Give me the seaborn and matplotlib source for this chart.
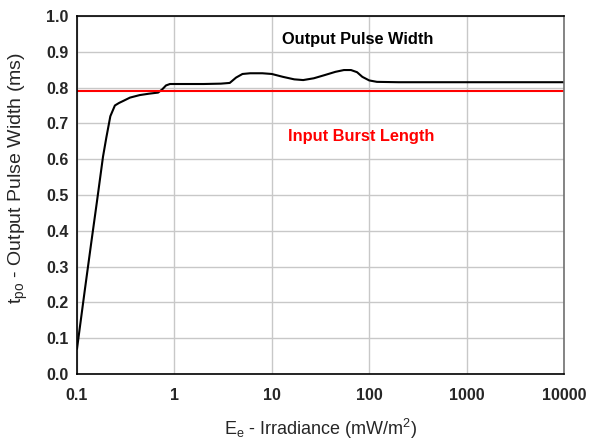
import numpy as np
import pandas as pd
import matplotlib.pyplot as plt
import seaborn as sns

# values
irradiance = [0.1, 0.12, 0.14, 0.16, 0.185, 0.2, 0.22, 0.245, 0.27, 0.3, 0.35,
              0.44, 0.55, 0.68, 0.75, 0.82, 0.9, 1.0, 2.0, 3.0, 3.7, 4.3, 5.0,
              6.0, 8.0, 10, 13, 17, 21, 27, 35, 45, 55, 65, 75, 85, 100, 120,
              200, 1000, 10000]
pulse_width = [0.07, 0.232, 0.366, 0.48, 0.607, 0.66, 0.72, 0.75, 0.757, 0.763,
               0.772, 0.779, 0.783, 0.786, 0.795, 0.806, 0.81, 0.81, 0.81,
               0.811, 0.813, 0.828, 0.838, 0.84, 0.84, 0.838, 0.83, 0.823,
               0.821, 0.826, 0.835, 0.844, 0.849, 0.849, 0.843, 0.83, 0.82,
               0.816, 0.815, 0.815, 0.815]
burst_length = 0.79
x_ticks = [0.1, 1, 10, 100, 1000, 10000]
x_tick_labels = ["0.1", "1", "10", "100", "1000", "10000"]
y_ticks = [0.0, 0.1, 0.2, 0.3, 0.4, 0.5, 0.6, 0.7, 0.8, 0.9, 1.0]

df = pd.DataFrame({"Ee": irradiance, "tpo": pulse_width})

sns.set_style("whitegrid")
plt.rcParams['font.family'] = ['Liberation Sans', 'DejaVu Sans']

fig = plt.figure(figsize=(5.89, 4.44), dpi=100)
ax = fig.add_axes([0.1307, 0.1577, 0.8269, 0.8063])

sns.lineplot(data=df, x="Ee", y="tpo", color="black", linewidth=1.5, ax=ax)
ax.axhline(burst_length, color="#ff0000", linewidth=1.5)

ax.set_xscale("log")
ax.set_xlim(0.1, 10000)
ax.set_ylim(0, 1.0)
ax.set_xticks(x_ticks)
ax.set_xticklabels(x_tick_labels)
ax.set_yticks(y_ticks)
ax.set_yticklabels([f"{v:.1f}" for v in y_ticks])
ax.minorticks_off()
ax.tick_params(length=0, labelsize=11.5)
ax.tick_params(axis="x", pad=10)
ax.tick_params(axis="y", pad=6)
for lab in ax.get_xticklabels() + ax.get_yticklabels():
    lab.set_fontweight("bold")

ax.grid(True, color="#c8c8c8", linewidth=1)
for side in ["left", "bottom", "top"]:
    ax.spines[side].set_color("black")
    ax.spines[side].set_linewidth(1.2)
ax.spines["right"].set_color("#707070")
ax.spines["right"].set_linewidth(1.2)

ax.set_xlabel(r"E$_{\mathregular{e}}$ - Irradiance (mW/m$^{\mathregular{2}}$)", fontsize=13, labelpad=10)
ax.set_ylabel(r"t$_{\mathregular{po}}$ - Output Pulse Width (ms)", fontsize=14)
ax.yaxis.set_label_coords(-0.097, 0.547)

ax.text(77, 0.933, "Output Pulse Width", fontsize=11.8, fontweight="bold",
        ha="center", va="center", color="black")
ax.text(82, 0.662, "Input Burst Length", fontsize=11.8, fontweight="bold",
        ha="center", va="center", color="#ff0000")

fig.savefig("out.png", dpi=100)
